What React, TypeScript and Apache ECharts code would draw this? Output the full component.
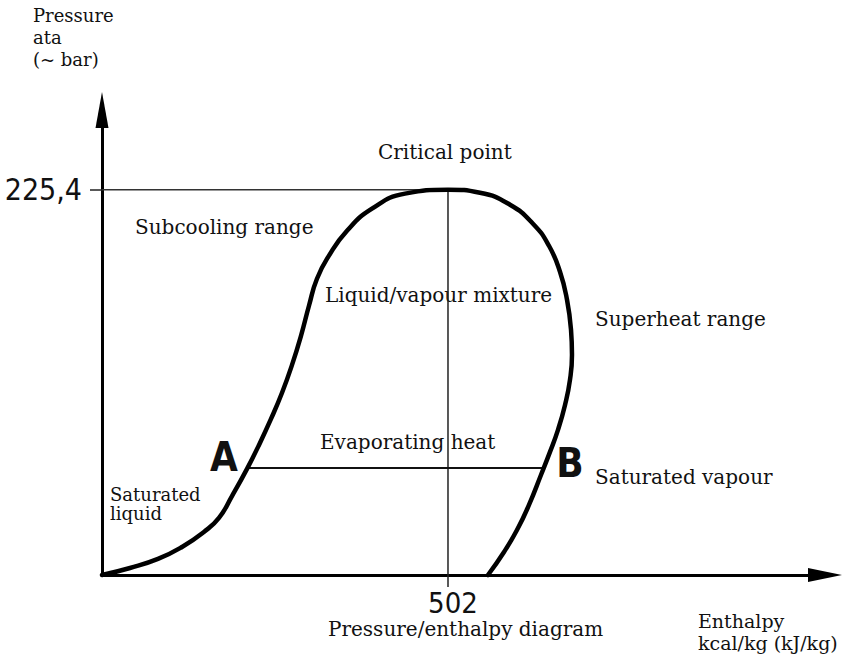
import React, { useEffect, useRef } from "react";
import * as echarts from "echarts";

// Saturation curve (enthalpy, pressure)
const leftBranch: number[][] = [
  [0, 0], [40.6, 4.1], [81.2, 9.4], [116.1, 16.4], [147.9, 25.2], [169.7, 33.4],
  [188.6, 46.2], [210.4, 62.1], [227.8, 76.1], [245.2, 91.3], [261.2, 106.6],
  [275.7, 122.9], [288.7, 139.9], [300.3, 157.5], [311.9, 173.3], [329.3, 186.8],
  [355.5, 201.4], [391.7, 214.3], [439.6, 223.1], [502, 225.4],
];
const rightBranch: number[][] = [
  [548.4, 223.6], [592.0, 216.6], [625.3, 205.5], [648.5, 192.6], [664.5, 177.4],
  [674.7, 161.0], [680.5, 143.4], [681.9, 128.8], [679.0, 114.2], [671.8, 99.5],
  [661.6, 84.9], [650.0, 72.0], [636.9, 58.5], [619.5, 41.0], [602.1, 26.3],
  [583.3, 13.5], [560.0, 0],
];
const criticalPoint = [502, 225.4];
const evaporatingPressure = 62.6;
const pointA = [210, evaporatingPressure];
const pointB = [641, evaporatingPressure];
const xTickValues = [502];
const yTickValues = [225.4];
const xTickLabels = ["502"];
const yTickLabels = ["225,4"];

const SERIF = "'DejaVu Serif', 'Liberation Serif', serif";
const SANS = "'DejaVu Sans Condensed', 'DejaVu Sans', sans-serif";

export default function App() {
  const ref = useRef<HTMLDivElement>(null);
  useEffect(() => {
    if (!ref.current) return;
    const chart = echarts.init(ref.current, undefined, { renderer: "svg" });
    const txt = (text: string, x: number, y: number, extra: any = {}) => ({
      type: "text",
      x,
      y,
      style: {
        text,
        fontFamily: SERIF,
        fontSize: 20,
        fill: "#111",
        align: "left",
        verticalAlign: "middle",
        ...extra,
      },
    });
    chart.setOption({
      animation: false,
      backgroundColor: "#fff",
      grid: { left: 102, right: 25, top: 110, bottom: 85 },
      xAxis: {
        type: "value",
        min: 0,
        max: 1049,
        axisLine: {
          show: true,
          symbol: ["none", "triangle"],
          symbolSize: [14, 34],
          lineStyle: { color: "#000", width: 3 },
        },
        splitLine: { show: false },
        axisTick: {
          show: true,
          customValues: xTickValues,
          length: 12,
          lineStyle: { color: "#222", width: 1.5 },
        },
        axisLabel: {
          customValues: xTickValues,
          formatter: (v: number) => xTickLabels[xTickValues.indexOf(v)] ?? "",
          fontFamily: SANS,
          fontSize: 29,
          lineHeight: 29,
          color: "#111",
          margin: 13,
          padding: [0, 0, 0, 10],
        },
      },
      yAxis: {
        type: "value",
        min: 0,
        max: 272,
        axisLine: {
          show: true,
          symbol: ["none", "triangle"],
          symbolSize: [13, 36],
          lineStyle: { color: "#000", width: 3 },
        },
        splitLine: { show: false },
        axisTick: {
          show: true,
          customValues: yTickValues,
          length: 12,
          lineStyle: { color: "#222", width: 1.5 },
        },
        axisLabel: {
          customValues: yTickValues,
          formatter: (v: number) => yTickLabels[yTickValues.indexOf(v)] ?? "",
          fontFamily: SANS,
          fontSize: 30,
          color: "#111",
          margin: 20,
        },
      },
      series: [
        {
          type: "line",
          data: [[0, criticalPoint[1]], criticalPoint],
          symbol: "none",
          clip: false,
          lineStyle: { color: "#333", width: 1.5 },
        },
        {
          type: "line",
          data: [criticalPoint, [criticalPoint[0], 0]],
          symbol: "none",
          clip: false,
          lineStyle: { color: "#222", width: 1.5 },
        },
        {
          type: "line",
          data: [pointA, pointB],
          symbol: "none",
          clip: false,
          lineStyle: { color: "#111", width: 2 },
        },
        {
          type: "line",
          data: [...leftBranch, ...rightBranch],
          symbol: "none",
          smooth: 0.5,
          clip: false,
          lineStyle: { color: "#000", width: 4.5, join: "round", cap: "round" },
        },
      ],
      graphic: [
        txt("Pressure", 33, 15.5, { fontSize: 18 }),
        txt("ata", 33, 37.5, { fontSize: 18 }),
        txt("(~ bar)", 33, 59.5, { fontSize: 18 }),
        txt("Critical point", 378, 151.5),
        txt("Subcooling range", 135, 226.5),
        txt("Liquid/vapour mixture", 325, 294.5),
        txt("Superheat range", 595, 318.5),
        txt("Evaporating heat", 320, 441.5),
        txt("Saturated vapour", 595, 476.5),
        txt("Saturated", 110, 494, { fontSize: 18 }),
        txt("liquid", 110, 513, { fontSize: 18 }),
        txt("Pressure/enthalpy diagram", 328, 628.5),
        txt("Enthalpy", 698, 620.5, { fontSize: 19 }),
        txt("kcal/kg (kJ/kg)", 698, 642.5, { fontSize: 19 }),
        txt("A", 224, 457, { fontFamily: SANS, fontSize: 40, fontWeight: "bold", align: "center" }),
        txt("B", 570, 463, { fontFamily: SANS, fontSize: 40, fontWeight: "bold", align: "center" }),
      ],
    });
    return () => chart.dispose();
  }, []);
  return (
    <div
      ref={ref}
      style={{ position: "absolute", left: 0, top: 0, width: 850, height: 660, background: "#fff" }}
    />
  );
}
